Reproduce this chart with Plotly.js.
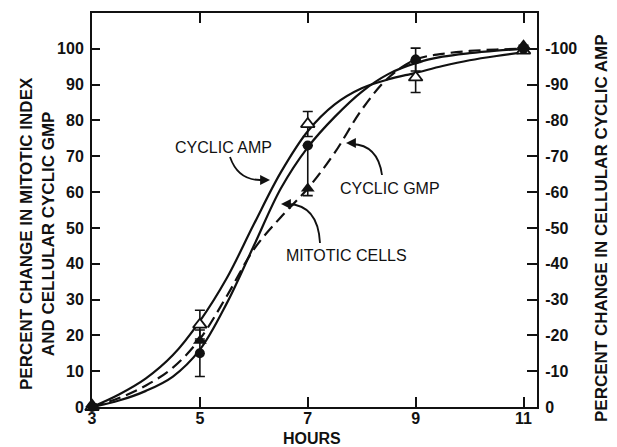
<!DOCTYPE html>
<html><head><meta charset="utf-8">
<script src="https://cdn.plot.ly/plotly-3.0.1.min.js"></script>
<style>html,body{margin:0;padding:0;background:#fff}</style>
</head><body><div id="chart" style="width:617px;height:447px"></div>
<script>
// ---- data ----
const hours = [3, 5, 7, 9, 11];
const ampMean = [0, 23, 79, 92, 99.5];
const ampErr = [0, 4, 3.5, 4.2, 0];
const mitoticMean = [0, 15, 73, 97, 100];
const mitoticErr = [0, 6.5, 0, 3.2, 0];
const gmpMean = [0.8, 18.5, 61, 97, 101];
const gmpErrPlus = [0, 0, 12, 0, 0];
const gmpErrMinus = [0, 0, 2, 0, 0];

const curveHours = [3, 3.5, 4, 4.5, 5, 5.5, 6, 6.5, 7, 7.5, 8, 8.5, 9, 9.5, 10, 10.5, 11];
const ampCurve = [0, 3.5, 8, 14.5, 24, 36, 51, 65.5, 77, 84.5, 89, 91.5, 93.3, 95.2, 96.8, 98, 99];
const mitoticCurve = [0, 1.8, 4.5, 8.5, 16, 29, 45, 61, 72.5, 81, 88, 93, 96, 97.8, 98.8, 99.5, 100];
const gmpCurve = [0, 2.5, 6, 11, 19, 31, 44, 53, 61, 71, 83, 92, 97, 98.6, 99.4, 99.8, 100];

const xTicks = [3, 5, 7, 9, 11];
const yTicks = [0, 10, 20, 30, 40, 50, 60, 70, 80, 90, 100];
const yTickText = ['0', '10', '20', '30', '40', '50', '60', '70', '80', '90', '100'];
const y2TickText = ['0', '-10', '-20', '-30', '-40', '-50', '-60', '-70', '-80', '-90', '-100'];

// ---- geometry helpers for decorations ----
const M = {l: 92, r: 80, t: 13, b: 40};
const W = 617, H = 447, PW = W - M.l - M.r, PH = H - M.t - M.b;
const XR = [3, 11.25], YR = [0, 110];
const hx = px => XR[0] + (px - M.l) / PW * (XR[1] - XR[0]);
const vy = py => YR[0] + (M.t + PH - py) / PH * (YR[1] - YR[0]);
const pxp = px => (px - M.l) / PW;
const pyp = py => (M.t + PH - py) / PH;

const FONT = 'Liberation Sans, Arial, sans-serif';
const k = '#111';

const curveLine = {color: k, width: 2.2, shape: 'spline', smoothing: 1};
const traces = [
  // transparent anchor so the right-hand (cyclic AMP) axis is drawn; same scale as left
  {x: hours, y: ampMean, mode: 'markers', yaxis: 'y2', marker: {opacity: 0}, hoverinfo: 'skip'},
  {x: curveHours, y: ampCurve, mode: 'lines', line: curveLine, hoverinfo: 'skip'},
  {x: curveHours, y: mitoticCurve, mode: 'lines', line: curveLine, hoverinfo: 'skip'},
  {x: curveHours, y: gmpCurve, mode: 'lines', line: Object.assign({}, curveLine, {dash: '12px,6px'}), hoverinfo: 'skip'},
  {x: hours, y: ampMean, mode: 'markers', cliponaxis: false,
   marker: {symbol: 'triangle-up', size: 12, color: '#fff', line: {color: k, width: 1.8}},
   error_y: {type: 'data', array: ampErr, color: k, thickness: 1.6, width: 5}},
  {x: hours, y: mitoticMean, mode: 'markers', cliponaxis: false,
   marker: {symbol: 'circle', size: 10, color: k},
   error_y: {type: 'data', array: mitoticErr, color: k, thickness: 1.6, width: 5}},
  {x: hours, y: gmpMean, mode: 'markers', cliponaxis: false,
   marker: {symbol: 'triangle-up', size: 12, color: k},
   error_y: {type: 'data', array: gmpErrPlus, arrayminus: gmpErrMinus, color: k, thickness: 1.6, width: 5}}
];

function arc(p0, c, p1) {
  return `M ${hx(p0[0])},${vy(p0[1])} Q ${hx(c[0])},${vy(c[1])} ${hx(p1[0])},${vy(p1[1])}`;
}
const arrowLine = {color: k, width: 1.8};
const shapes = [
  {type: 'path', xref: 'x', yref: 'y', path: arc([230, 157], [238, 180], [260, 180]), line: arrowLine},
  {type: 'path', xref: 'x', yref: 'y', path: arc([320, 243], [318, 205], [288, 204]), line: arrowLine},
  {type: 'path', xref: 'x', yref: 'y', path: arc([382, 175], [378, 145], [352, 144]), line: arrowLine}
];

function head(tx, ty, ax, ay) {
  return {x: hx(tx), y: vy(ty), xref: 'x', yref: 'y', ax: ax, ay: ay, text: '',
    showarrow: true, arrowhead: 2, arrowsize: 1.1, arrowwidth: 1.8, arrowcolor: k};
}
function label(text, px, py) {
  return {x: hx(px), y: vy(py), xref: 'x', yref: 'y', text: text, showarrow: false,
    font: {family: FONT, size: 16, color: k}, xanchor: 'center', yanchor: 'middle'};
}
const titleFont = {family: FONT, size: 17, color: k, weight: 'bold'};
const annotations = [
  label('CYCLIC AMP', 223, 147),
  label('CYCLIC GMP', 390, 188),
  label('MITOTIC CELLS', 346, 255),
  head(270, 180, -12, 0),
  head(281, 204, 10, 0),
  head(346, 143, 9, 0),
  {xref: 'paper', yref: 'paper', x: pxp(38), y: pyp(234), textangle: -90, showarrow: false,
   text: 'PERCENT CHANGE IN MITOTIC INDEX<br>AND CELLULAR CYCLIC GMP', font: titleFont,
   xanchor: 'center', yanchor: 'middle'},
  {xref: 'paper', yref: 'paper', x: pxp(601), y: pyp(228), textangle: -90, showarrow: false,
   text: 'PERCENT CHANGE IN CELLULAR CYCLIC AMP', font: titleFont, xanchor: 'center', yanchor: 'middle'},
  {xref: 'paper', yref: 'paper', x: pxp(312), y: pyp(438), showarrow: false,
   text: 'HOURS', font: {family: FONT, size: 16, color: k, weight: 'bold'}, xanchor: 'center', yanchor: 'middle'}
];

const tickFont = {family: FONT, size: 16, color: k, weight: 'bold'};
const layout = {
  width: W, height: H, margin: M, showlegend: false,
  paper_bgcolor: '#fff', plot_bgcolor: '#fff',
  xaxis: {range: XR, tickvals: xTicks, ticktext: xTicks.map(String), ticks: 'inside', ticklen: 10, tickwidth: 2,
    tickcolor: k, showline: true, linecolor: k, linewidth: 2, mirror: 'ticks', showgrid: false, zeroline: false,
    tickfont: tickFont, ticklabelstandoff: -4},
  yaxis: {range: YR, tickvals: yTicks, ticktext: yTickText, ticks: 'inside', ticklen: 8, tickwidth: 2, tickcolor: k,
    showline: true, linecolor: k, linewidth: 2, showgrid: false, zeroline: false, tickfont: tickFont,
    ticklabelstandoff: 3},
  yaxis2: {range: YR, overlaying: 'y', side: 'right', tickvals: yTicks, ticktext: y2TickText, ticks: 'inside',
    ticklen: 10, tickwidth: 2, tickcolor: k, showline: true, linecolor: k, linewidth: 2, showgrid: false,
    zeroline: false, tickfont: tickFont, ticklabelstandoff: 3},
  shapes: shapes,
  annotations: annotations
};
Plotly.newPlot('chart', traces, layout, {staticPlot: true, displayModeBar: false});
</script>
</body></html>
